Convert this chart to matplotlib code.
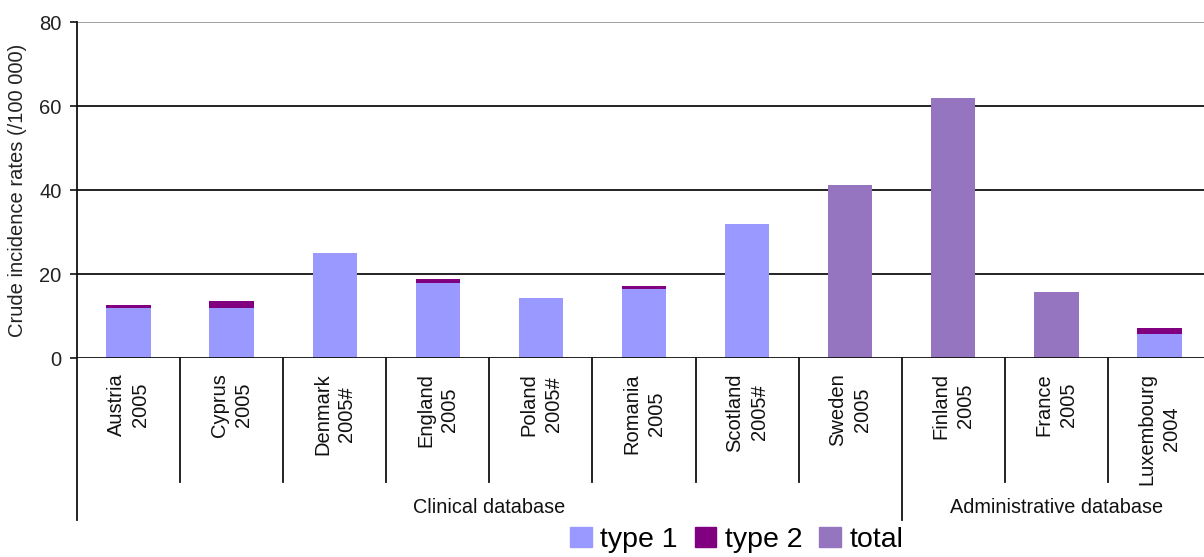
import numpy as np
import matplotlib.pyplot as plt
import matplotlib.transforms as mtransforms
from matplotlib.patches import Patch

plt.rcParams['font.family'] = ['Liberation Sans', 'DejaVu Sans']

# incidence per 100 000, one entry per registry
countries = ['Austria', 'Cyprus', 'Denmark', 'England', 'Poland', 'Romania',
             'Scotland', 'Sweden', 'Finland', 'France', 'Luxembourg']
years = ['2005', '2005', '2005#', '2005', '2005#', '2005',
         '2005#', '2005', '2005', '2005', '2004']
type1 = [11.9, 11.9, 25.0, 17.8, 14.4, 16.5, 32.0, 0, 0, 0, 5.6]
type2 = [0.8, 1.7, 0, 1.0, 0, 0.6, 0, 0, 0, 0, 1.6]
total = [0, 0, 0, 0, 0, 0, 0, 41.1, 61.8, 15.6, 0]

groups = ['Clinical database', 'Administrative database']
group_sizes = [8, 3]

c_t1 = '#9999FF'
c_t2 = '#800080'
c_tot = '#9575C0'

fig = plt.figure(figsize=(12.04, 5.57), dpi=100)
ax = fig.add_axes([77 / 1204, 199 / 557, 1134 / 1204, 336 / 557])

x = np.arange(len(countries))
w = 0.43
ax.bar(x, type1, w, color=c_t1, zorder=3)
ax.bar(x, type2, w, bottom=type1, color=c_t2, zorder=3)
ax.bar(x, total, w, color=c_tot, zorder=3)

ax.set_xlim(-0.5, len(countries) - 0.5)
ax.set_ylim(0, 80)
ax.set_yticks([0, 20, 40, 60, 80])
for v in [20, 40, 60]:
    ax.axhline(v, color='#111111', lw=1.3, zorder=1)
ax.axhline(80, color='#999999', lw=1.3, zorder=1)
ax.axhline(0, color='#111111', lw=1.3, zorder=4)

for s in ax.spines.values():
    s.set_visible(False)
ax.set_xticks([])
ax.tick_params(axis='y', length=5, width=1.2, color='#111111',
               labelsize=14.5, labelcolor='#222222', pad=6)
ax.set_ylabel('Crude incidence rates (/100 000)', fontsize=14.5,
              color='#222222', labelpad=9)

trans = mtransforms.blended_transform_factory(ax.transData, ax.transAxes)

# category labels below the axis
for i, (c, yr) in enumerate(zip(countries, years)):
    ax.text(i, -0.045, c + '\n' + yr, rotation=90, ha='center', va='top',
            multialignment='center', fontsize=14.5, color='#111111',
            linespacing=1.35, transform=trans)

# short separators between categories, long ones between groups
edges = np.cumsum([0] + group_sizes) - 0.5
for i in range(len(countries) + 1):
    xp = i - 0.5
    if np.isclose(edges, xp).any():
        if xp == -0.5:
            ax.plot([xp, xp], [1, -0.482], color='#111111', lw=1.3,
                    transform=trans, clip_on=False, zorder=5)
        else:
            ax.plot([xp, xp], [0, -0.482], color='#111111', lw=1.3,
                    transform=trans, clip_on=False)
    else:
        ax.plot([xp, xp], [0, -0.369], color='#111111', lw=1.3,
                transform=trans, clip_on=False)

for g, a, b in zip(groups, edges[:-1], edges[1:]):
    ax.text((a + b) / 2, -0.446, g, ha='center', va='center', fontsize=14.3,
            color='#111111', transform=trans)

handles = [Patch(color=c_t1, label='type 1'),
           Patch(color=c_t2, label='type 2'),
           Patch(color=c_tot, label='total')]
fig.legend(handles=handles, loc='center', bbox_to_anchor=(0.612, 0.031),
           ncol=3, frameon=False, fontsize=20.5, handlelength=0.75,
           handleheight=0.75, handletextpad=0.3, columnspacing=0.6,
           borderpad=0)

fig.savefig('out.png', dpi=100)
